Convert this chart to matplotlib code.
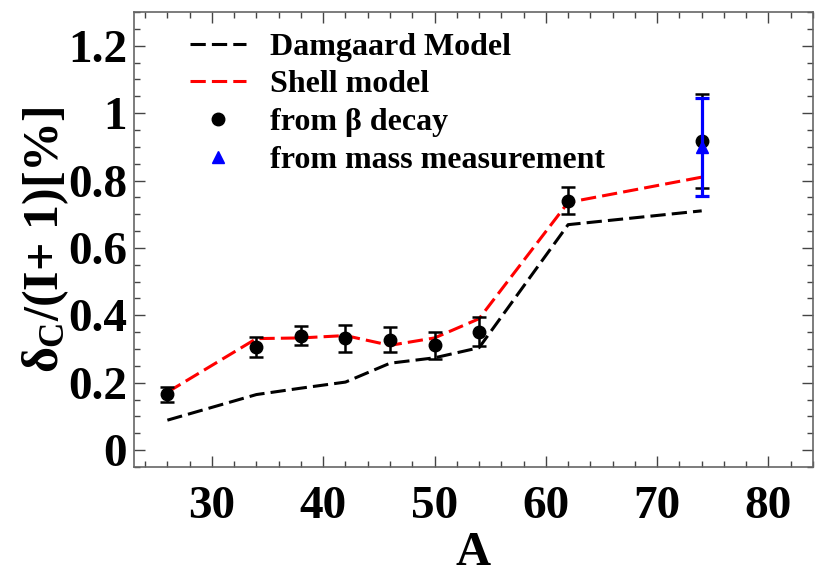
import numpy as np
import matplotlib.pyplot as plt
from matplotlib.ticker import MultipleLocator, FuncFormatter
from matplotlib.lines import Line2D

plt.rcParams['font.family'] = ['Liberation Serif', 'DejaVu Serif']
plt.rcParams['font.weight'] = 'bold'
plt.rcParams['axes.labelweight'] = 'bold'
plt.rcParams['mathtext.fontset'] = 'custom'
plt.rcParams['mathtext.rm'] = 'Liberation Serif:bold'
plt.rcParams['mathtext.it'] = 'Liberation Serif:bold'
plt.rcParams['mathtext.bf'] = 'Liberation Serif:bold'

# mass numbers
A = [26, 34, 38, 42, 46, 50, 54, 62, 74]

# model curves
damgaard = [0.089, 0.165, 0.184, 0.202, 0.258, 0.274, 0.304, 0.669, 0.71]
shell = [0.172, 0.331, 0.333, 0.340, 0.311, 0.333, 0.39, 0.735, 0.81]

# from beta decay
beta_val = [0.166, 0.306, 0.340, 0.332, 0.327, 0.311, 0.352, 0.740, 0.917]
beta_err = [0.022, 0.030, 0.028, 0.040, 0.037, 0.040, 0.042, 0.040, 0.140]

# from mass measurement
mass_A = [74]
mass_val = [0.90]
mass_err = [0.145]

fig = plt.figure(figsize=(8.19, 5.84), dpi=100)
ax = fig.add_axes([0.1636, 0.2003, 0.8291, 0.7792])

dash = (5, 2)
ax.plot(A, damgaard, color='black', lw=2.2, dashes=dash)
ax.plot(A, shell, color='red', lw=2.2, dashes=dash)
ax.errorbar(A, beta_val, yerr=beta_err, fmt='o', color='black', ms=9,
            elinewidth=1.8, capsize=4.7, capthick=1.8, zorder=3)
ax.errorbar(mass_A, mass_val, yerr=mass_err, fmt='^', color='blue', ms=9,
            elinewidth=2.3, capsize=4.7, capthick=2.3, zorder=4)

ax.set_xlim(23, 84)
ax.set_ylim(-0.05, 1.3)
ax.xaxis.set_major_locator(MultipleLocator(10))
ax.xaxis.set_minor_locator(MultipleLocator(2))
ax.yaxis.set_major_locator(MultipleLocator(0.2))
ax.yaxis.set_minor_locator(MultipleLocator(0.05))
ax.yaxis.set_major_formatter(FuncFormatter(lambda v, p: f'{v:.0f}' if abs(v - round(v)) < 1e-6 else f'{v:.1f}'))

for s in ax.spines.values():
    s.set_color('#666666')
    s.set_linewidth(1.2)
ax.tick_params(which='both', direction='in', top=True, right=True, color='#444444', width=1)
ax.tick_params(which='major', length=8, labelsize=34)
ax.tick_params(which='minor', length=4)
ax.tick_params(axis='x', which='major', pad=14)
ax.tick_params(axis='y', which='major', pad=5)

ax.set_xlabel('A', fontsize=35, labelpad=2)
ax.set_ylabel(r'$\delta_\mathrm{C}$/(I+ 1)[%]', fontsize=36, labelpad=-2)

# legend with plain marker handles
handles = [
    Line2D([], [], color='black', lw=2.2, dashes=dash),
    Line2D([], [], color='red', lw=2.2, dashes=dash),
    Line2D([], [], color='black', marker='o', ls='none', ms=9),
    Line2D([], [], color='blue', marker='^', ls='none', ms=9),
]
labels = ['Damgaard Model', 'Shell model', 'from β decay', 'from mass measurement']
leg = ax.legend(handles, labels, loc='upper left', bbox_to_anchor=(0.0825, 0.955), frameon=False,
                fontsize=23, handlelength=1.76, labelspacing=0.26, handletextpad=0.75,
                borderpad=0, borderaxespad=0)
for t in leg.get_texts():
    t.set_fontweight('bold')

fig.savefig('out.png', dpi=100)
